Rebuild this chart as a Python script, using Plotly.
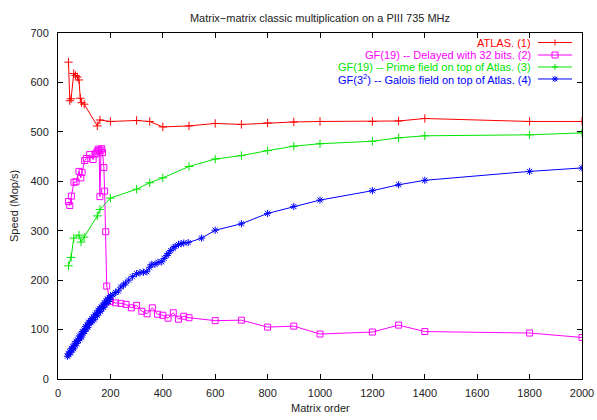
import plotly.graph_objects as go

# ---- data ----
atlas_x = [40, 45, 50, 60, 67, 74, 80, 85, 90, 100, 150, 160, 200, 300, 350, 400,
           500, 600, 700, 800, 900, 1000, 1200, 1300, 1400, 1800, 2000]
atlas_y = [641, 563, 567, 618, 614, 611, 605, 568, 559, 556, 512, 524, 521, 523, 521, 510,
           512, 517, 515, 518, 520, 521, 521, 522, 527, 521, 521]

delayed_x = [40, 45, 51, 61, 69, 80, 87, 92, 102, 108, 121, 134, 141, 146, 150, 154,
             157, 160, 164, 167, 170, 175, 178, 182, 186, 200, 220, 240, 260, 280, 300,
             320, 340, 360, 380, 400, 420, 440, 460, 480, 500, 600, 700, 800, 900,
             1000, 1200, 1300, 1400, 1800, 2000]
delayed_y = [359, 351, 370, 398, 399, 420, 407, 418, 442, 446, 454, 444, 455, 457, 461, 465,
             462, 369, 463, 466, 458, 428, 380, 298, 188, 157, 154, 153, 151, 144, 149,
             137, 132, 144, 131, 129, 123, 134, 121, 127, 124, 118, 119, 105, 107,
             91, 95, 109, 96, 93, 84]

prime_x = [40, 50, 60, 80, 88, 100, 150, 160, 200, 300, 350, 400, 500, 600, 700, 800,
           900, 1000, 1200, 1300, 1400, 1800, 2000]
prime_y = [229, 246, 285, 291, 277, 287, 330, 343, 366, 384, 397, 407, 430, 445, 452, 462,
           471, 476, 481, 488, 492, 494, 498]

galois_x = [36, 39, 42, 45, 48, 51, 54, 57, 60, 63, 66, 69, 72, 75, 78, 81, 84, 87, 90,
            93, 96, 99, 102, 105, 108, 111, 114, 117, 120, 123, 126, 129, 132, 135, 138,
            141, 144, 147, 150, 153, 156, 159, 162, 165, 168, 171, 174, 177, 180, 183,
            186, 189, 192, 195, 198, 201, 210, 220, 230, 240, 250, 258, 270, 284, 300,
            313, 326, 339, 350, 358, 370, 382, 396, 405, 415, 421, 430, 440, 447, 460,
            470, 480, 497, 548, 600, 700, 800, 900, 1000, 1200, 1300, 1400, 1800, 2000]
galois_y = [46, 51, 49, 55, 53, 62, 59, 65, 61, 71, 68, 76, 72, 79, 78, 87, 81, 89, 85,
            96, 92, 99, 96, 106, 102, 109, 104, 115, 112, 118, 114, 122, 118, 125, 120,
            130, 126, 133, 129, 139, 134, 142, 137, 146, 142, 149, 145, 154, 150, 158,
            153, 162, 157, 165, 161, 168, 170, 175, 178, 186, 190, 194, 200, 207, 213,
            215, 216, 217, 226, 232, 232, 236, 237, 244, 250, 254, 260, 265, 268, 272,
            274, 275, 276, 285, 301, 314, 335, 349, 362, 381, 393, 402, 420, 427]

series = [
    ("ATLAS. (1)", atlas_x, atlas_y, "#ff0000", "cross-thin-open", 6),
    ("GF(19) -- Delayed with 32 bits. (2)", delayed_x, delayed_y, "#ff00ff", "square-open", 6),
    ("GF(19) -- Prime field on top of Atlas. (3)", prime_x, prime_y, "#00e600", "cross-thin-open", 6),
    ("GF(3<sup>2</sup>) -- Galois field on top of Atlas. (4)", galois_x, galois_y, "#0000ff", "asterisk-open", 6),
]

FONT = "Liberation Sans, Arial, sans-serif"

fig = go.Figure()
for name, xs, ys, col, sym, sz in series:
    fig.add_trace(go.Scatter(
        x=xs, y=ys, mode="lines+markers", name=name, showlegend=False,
        line=dict(color=col, width=1),
        marker=dict(symbol=sym, size=sz, color=col, line=dict(color=col, width=1)),
    ))

# ---- legend drawn gnuplot-style (text right, sample on the right) ----
row_y = [0.9725, 0.9364, 0.9017, 0.8671]
glyphs = {
    "cross-thin-open": "M-3,0H3M0,-3V3",
    "square-open": "M-3,-3H3V3H-3Z",
    "asterisk-open": "M-3,0H3M0,-3V3M-2.3,-2.3L2.3,2.3M-2.3,2.3L2.3,-2.3",
}
annotations = []
shapes = []
for (name, xs, ys, col, sym, sz), ry in zip(series, row_y):
    annotations.append(dict(
        x=0.906, y=ry, xref="paper", yref="paper", xanchor="right", yanchor="middle",
        text=name, showarrow=False, font=dict(color=col, size=11, family=FONT),
    ))
    shapes.append(dict(type="line", xref="paper", yref="paper", x0=0.916, x1=0.981,
                       y0=ry, y1=ry, line=dict(color=col, width=1)))
    shapes.append(dict(type="path", xref="paper", yref="paper", xsizemode="pixel",
                       ysizemode="pixel", xanchor=0.9485, yanchor=ry, path=glyphs[sym],
                       line=dict(color=col, width=1)))

# axis titles as annotations (fixed pixel placement)
annotations.append(dict(x=0.5, y=-0.084, xref="paper", yref="paper", xanchor="center",
                        yanchor="middle", text="Matrix order", showarrow=False,
                        font=dict(size=11, color="#222", family=FONT)))
annotations.append(dict(x=-0.084, y=0.5, xref="paper", yref="paper", xanchor="center",
                        yanchor="middle", text="Speed (Mop/s)", textangle=-90,
                        showarrow=False, font=dict(size=11, color="#222", family=FONT)))

axis_common = dict(
    showline=True, linecolor="black", linewidth=1, mirror="ticks",
    ticks="inside", ticklen=5, tickcolor="black", showgrid=False, zeroline=False,
    automargin=False,
    tickfont=dict(size=11, color="#222", family=FONT),
)

fig.update_layout(
    width=597, height=420,
    margin=dict(l=58, r=15, t=33, b=41),
    paper_bgcolor="white", plot_bgcolor="white",
    font=dict(family=FONT, size=11, color="#222"),
    title=dict(text="Matrix\u2212matrix classic multiplication on a PIII 735 MHz",
               x=0.536, xanchor="center", y=0.957, yanchor="middle",
               font=dict(size=11, color="#222", family=FONT)),
    xaxis=dict(range=[0, 2000], dtick=200, tick0=0, ticklabelstandoff=4,
               ticklabeloverflow="allow", **axis_common),
    yaxis=dict(range=[0, 700], dtick=100, tick0=0, ticklabelstandoff=6, **axis_common),
    annotations=annotations,
    shapes=shapes,
)

# remove the default 8px page margin so the figure fills the window exactly
fig.write_html(
    "out.html",
    config={"displayModeBar": False},
    post_script="document.body.style.margin='0';document.body.style.overflow='hidden';",
)
